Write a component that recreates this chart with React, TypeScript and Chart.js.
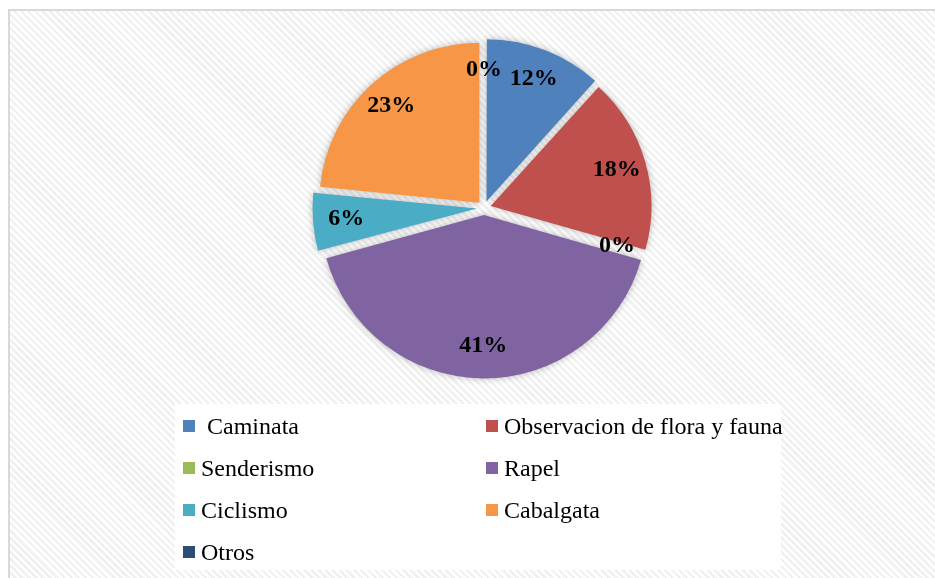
import React, { useEffect, useRef } from "react";
import { Chart, registerables } from "chart.js";

Chart.register(...registerables);

const categories = [
  " Caminata",
  "Observacion de flora y fauna",
  "Senderismo",
  "Rapel",
  "Ciclismo",
  "Cabalgata",
  "Otros",
];
const shares = [11.7, 17.7, 0, 41.4, 5.8, 23.4, 0];
const colors = ["#4F81BD", "#C0504D", "#9BBB59", "#8064A2", "#4BACC6", "#F79646", "#2C4D75"];

const hatch =
  "repeating-linear-gradient(45deg, #ffffff 0px, #ffffff 2.5px, #f1f1f1 2.5px, #f1f1f1 5px)";

const shadowPlugin = {
  id: "sliceShadow",
  beforeDatasetsDraw(chart: any) {
    const ctx = chart.ctx;
    ctx.save();
    ctx.shadowColor = "rgba(0,0,0,0.28)";
    ctx.shadowBlur = 7;
  },
  afterDatasetsDraw(chart: any) {
    chart.ctx.restore();
  },
};

const labelPlugin = {
  id: "pctLabels",
  afterDraw(chart: any) {
    const ctx = chart.ctx;
    const meta = chart.getDatasetMeta(0);
    const data = chart.data.datasets[0].data as number[];
    const total = data.reduce((a, b) => a + b, 0);
    ctx.save();
    ctx.font = "bold 24px 'Liberation Serif', 'Times New Roman', serif";
    ctx.fillStyle = "#000000";
    ctx.textAlign = "center";
    ctx.textBaseline = "middle";
    meta.data.forEach((arc: any, i: number) => {
      const p = arc.getProps(["x", "y", "startAngle", "endAngle", "outerRadius"], true);
      const mid = (p.startAngle + p.endAngle) / 2;
      const r = p.outerRadius * 0.82 + 7;
      const x = p.x + Math.cos(mid) * r;
      const y = p.y + Math.sin(mid) * r;
      ctx.fillText(Math.round((data[i] / total) * 100) + "%", x, y);
    });
    ctx.restore();
  },
};

export default function App() {
  const canvasRef = useRef<HTMLCanvasElement | null>(null);

  useEffect(() => {
    if (!canvasRef.current) return;
    const chart = new Chart(canvasRef.current, {
      type: "pie",
      data: {
        labels: categories,
        datasets: [
          {
            data: shares,
            backgroundColor: colors,
            borderWidth: 0,
            offset: 28,
            hoverOffset: 0,
          },
        ],
      },
      options: {
        responsive: false,
        animation: false,
        layout: { padding: { top: 23, bottom: 29, left: 23, right: 0 } },
        plugins: {
          legend: { display: false },
          tooltip: { enabled: false },
        },
      },
      plugins: [shadowPlugin, labelPlugin],
    });
    return () => chart.destroy();
  }, []);

  return (
    <div
      style={{
        position: "absolute",
        left: 8,
        top: 9,
        width: 927,
        height: 569,
        borderTop: "2px solid #d9d9d9",
        borderLeft: "2px solid #d9d9d9",
        boxSizing: "border-box",
        background: hatch,
        overflow: "hidden",
      }}
    >
      <canvas
        ref={canvasRef}
        width={925}
        height={400}
        style={{ position: "absolute", left: 0, top: 0, width: 925, height: 400 }}
      />
      <div
        style={{
          position: "absolute",
          left: 165,
          top: 393,
          width: 606,
          height: 166,
          background: "#ffffff",
        }}
      >
        {categories.map((c, i) => (
          <div
            key={c}
            style={{
              position: "absolute",
              left: 8 + (i % 2) * 303,
              top: 1 + Math.floor(i / 2) * 42,
              height: 42,
              display: "flex",
              alignItems: "center",
              font: "24px 'Liberation Serif', 'Times New Roman', serif",
              color: "#000",
              whiteSpace: "pre",
            }}
          >
            <span
              style={{
                display: "inline-block",
                width: 12,
                height: 12,
                background: colors[i],
                marginRight: 6,
              }}
            />
            <span>{c}</span>
          </div>
        ))}
      </div>
    </div>
  );
}
